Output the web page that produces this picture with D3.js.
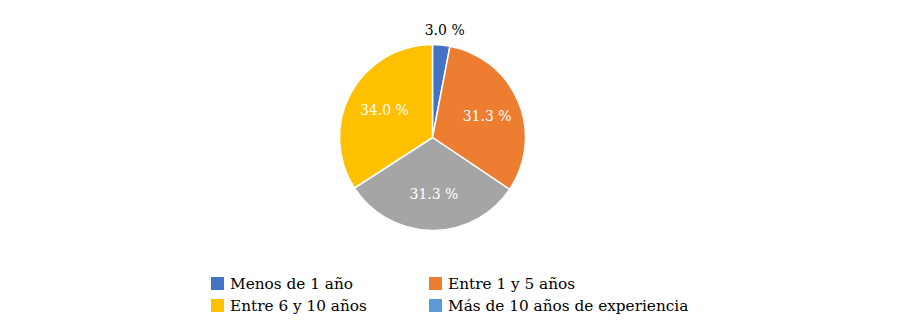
<!DOCTYPE html>
<html><head><meta charset="utf-8">
<script src="https://cdn.jsdelivr.net/npm/d3@7"></script>
<style>html,body{margin:0;padding:0;background:#fff;}svg{display:block;}</style>
</head><body>
<svg id="chart" width="902" height="335"></svg>
<script>
const sliceKeys = ["menos1", "entre1y5", "gris", "entre6y10"];
const sliceValues = [3.0, 31.3, 31.3, 34.0];
const sliceColors = ["#4472C4", "#ED7D31", "#A5A5A5", "#FFC000"];
const sliceLabels = ["3.0 %", "31.3 %", "31.3 %", "34.0 %"];
const legendLabels = ["Menos de 1 año", "Entre 1 y 5 años", "Entre 6 y 10 años", "Más de 10 años de experiencia"];
const legendColors = ["#4472C4", "#ED7D31", "#FFC000", "#5B9BD5"];

const svg = d3.select("#chart");
const cx = 432.5, cy = 137.5, R = 93;
const labelFont = "DejaVu Serif, serif";
const legendFont = "DejaVu Serif, serif";

const data = sliceKeys.map((k, i) => ({key: k, value: sliceValues[i], color: sliceColors[i], label: sliceLabels[i]}));
const pie = d3.pie().sort(null).value(d => d.value);
const arcs = pie(data);
const arc = d3.arc().innerRadius(0).outerRadius(R);
const labelArc = d3.arc().innerRadius(57).outerRadius(57);
const outArc = d3.arc().innerRadius(108).outerRadius(108);

const g = svg.append("g").attr("transform", `translate(${cx},${cy})`);
g.selectAll("path").data(arcs).join("path")
  .attr("d", arc).attr("fill", d => d.data.color)
  .attr("stroke", "#fff").attr("stroke-width", 1.5).attr("stroke-linejoin", "round");

g.selectAll("text").data(arcs).join("text")
  .attr("transform", (d, i) => {
    const p = i === 0 ? outArc.centroid(d) : labelArc.centroid(d);
    return `translate(${p[0] + 2},${p[1]})`;
  })
  .attr("text-anchor", "middle").attr("dominant-baseline", "central")
  .style("font-family", labelFont).style("font-size", "14px")
  .attr("fill", (d, i) => i === 0 ? "#000" : "#fff")
  .text(d => d.data.label);

const legend = svg.append("g");
const colX = [211, 429], rowY = [277, 299];
legendLabels.forEach((lab, i) => {
  const x = colX[i % 2], y = rowY[Math.floor(i / 2)];
  legend.append("rect").attr("x", x).attr("y", y).attr("width", 13).attr("height", 13).attr("fill", legendColors[i]);
  legend.append("text").attr("x", x + 19).attr("y", y + 7).attr("dominant-baseline", "central")
    .style("font-family", legendFont).style("font-size", "15.3px").attr("fill", "#000").text(lab);
});
</script>
</body></html>
